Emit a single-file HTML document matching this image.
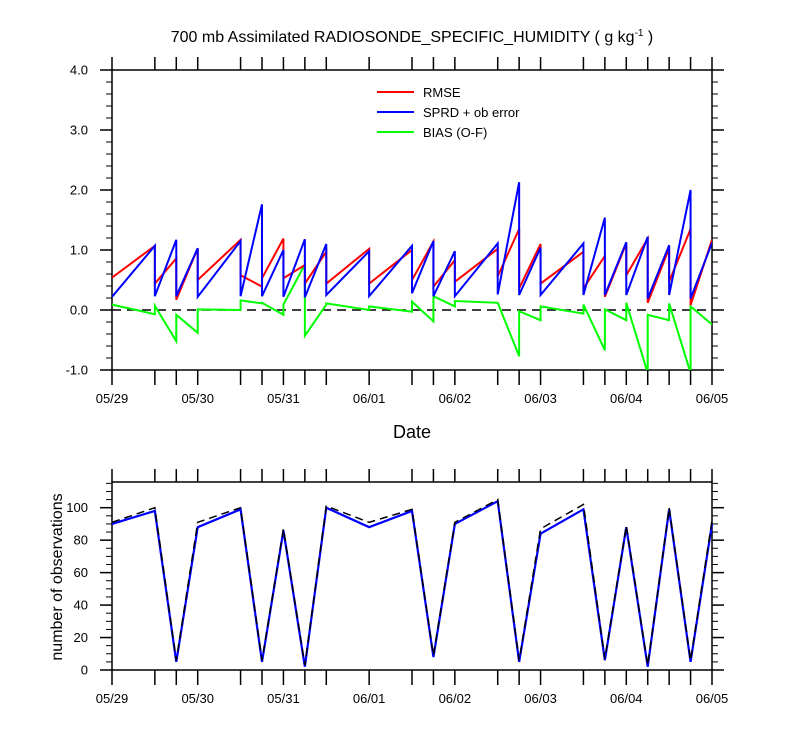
<!DOCTYPE html>
<html><head><meta charset="utf-8"><style>
body{margin:0;background:#fff;}
svg{display:block;font-family:"Liberation Sans",Arial,sans-serif;}
</style></head><body>
<svg id="chart" width="800" height="750" xmlns="http://www.w3.org/2000/svg">
<text x="412" y="42" text-anchor="middle" font-size="16">700 mb Assimilated RADIOSONDE_SPECIFIC_HUMIDITY ( g kg<tspan dy="-6" font-size="10">-1</tspan><tspan dy="6"> )</tspan></text>
<text x="412" y="438" text-anchor="middle" font-size="18">Date</text>
<text transform="translate(62,577) rotate(-90)" text-anchor="middle" font-size="16">number of observations</text>
<g id="topPlot"></g>
<g id="botPlot"></g>
<g>
<line x1="377" y1="92" x2="414" y2="92" stroke="#f00" stroke-width="2"/>
<text x="423" y="97" font-size="13">RMSE</text>
<line x1="377" y1="112" x2="414" y2="112" stroke="#00f" stroke-width="2"/>
<text x="423" y="117" font-size="13">SPRD + ob error</text>
<line x1="377" y1="132" x2="414" y2="132" stroke="#0f0" stroke-width="2"/>
<text x="423" y="137" font-size="13">BIAS (O-F)</text>
</g>
</svg>
<script>
// hours since 05/29 00Z
const times = [0,12,18,24,36,42,48,54,60,72,84,90,96,108,114,120,132,138,144,150,156,162,168];
const dayLabels = ["05/29","05/30","05/31","06/01","06/02","06/03","06/04","06/05"];
const yTicksTop = [-1,0,1,2,3,4];
const yTickLabelsTop = ["-1.0","0.0","1.0","2.0","3.0","4.0"];
const yTicksBot = [0,20,40,60,80,100];
// per interval [times[i], times[i+1]] start and end values
const rmseStart = [0.54,0.44,0.17,0.5,0.58,0.53,0.53,0.44,0.44,0.44,0.5,0.39,0.47,0.56,0.36,0.44,0.36,0.22,0.58,0.12,0.47,0.08];
const rmseEnd   = [1.07,0.86,1.03,1.17,0.39,1.19,0.75,0.97,1.02,1.0,1.14,0.83,1.02,1.35,1.1,0.97,0.9,1.11,1.19,1.03,1.35,1.17];
const sprdStart = [0.22,0.23,0.23,0.22,0.23,0.23,0.22,0.21,0.25,0.23,0.28,0.23,0.23,0.26,0.25,0.25,0.25,0.25,0.25,0.19,0.25,0.19];
const sprdEnd   = [1.07,1.17,1.03,1.15,1.76,1.0,1.18,1.1,0.98,1.07,1.15,0.98,1.11,2.13,1.04,1.11,1.54,1.13,1.22,1.08,2.0,1.12];
const biasStart = [0.09,0.07,-0.08,0.01,0.16,0.12,0.09,-0.43,0.11,0.06,0.14,0.23,0.15,0.12,-0.02,0.06,0.09,0.01,0.12,-0.08,0.11,0.06];
const biasEnd   = [-0.07,-0.52,-0.38,0.0,0.11,-0.08,0.76,0.09,0.0,-0.03,-0.19,0.06,0.12,-0.77,-0.17,-0.06,-0.67,-0.17,-1.05,-0.17,-1.05,-0.24];
const nobsUsed  = [90,98,5,88,99,5,86,2,100,88,98,8,90,104,5,84,99,6,88,2,99,5,90];
const nobsPoss  = [91,100,6,91,100,6,87,3,101,91,99,9,91,105,6,87,102,7,89,3,100,6,92];

const NS="http://www.w3.org/2000/svg";
const X0=112,X1=712;
const xs=h=>X0+(X1-X0)*h/168;
const yTop=v=>310-60*v;
const yBot=v=>670-1.623*v;
function mk(tag,attrs,parent){const e=document.createElementNS(NS,tag);for(const k in attrs)e.setAttribute(k,attrs[k]);parent.appendChild(e);return e;}
const topG=document.getElementById('topPlot'),botG=document.getElementById('botPlot');

const defs=mk('defs',{},document.getElementById('chart'));
const cp=mk('clipPath',{id:'cpt'},defs);mk('rect',{x:X0,y:70,width:600,height:300},cp);

function frame(g,yT,yB,ticks,labels,minorStep,vmin,vmax,yf,name){
  const f=mk('rect',{x:X0,y:yT,width:X1-X0,height:yB-yT,fill:'none',stroke:'#000','stroke-width':1.5},g);
  
  
  times.forEach(h=>{
    const t1=mk('line',{x1:xs(h),x2:xs(h),y1:yB,y2:yB+15,stroke:'#000','stroke-width':1.5},g);
    
    
    const t2=mk('line',{x1:xs(h),x2:xs(h),y1:yT,y2:yT-13,stroke:'#000','stroke-width':1.5},g);
    
    
  });
  dayLabels.forEach((d,i)=>{
    const t=mk('text',{x:xs(i*24),y:yB+33,'text-anchor':'middle','font-size':13},g);
    t.textContent=d;
    
    
  });
  for(let v=vmin;v<=vmax+1e-9;v+=minorStep){
    const y=yf(v);
    [[X0,X0-6],[X1,X1+6]].forEach(([a,b])=>{
      const l=mk('line',{x1:a,x2:b,y1:y,y2:y,stroke:'#000','stroke-width':1},g);
      
      
    });
  }
  ticks.forEach((v,i)=>{
    const y=yf(v);
    [[X0,X0-12],[X1,X1+12]].forEach(([a,b])=>{
      const l=mk('line',{x1:a,x2:b,y1:y,y2:y,stroke:'#000','stroke-width':1.5},g);
      
      
    });
    const t=mk('text',{x:X0-24,y:y+4.5,'text-anchor':'end','font-size':13},g);
    t.textContent=labels[i];
    
    
  });
}
frame(topG,70,370,yTicksTop,yTickLabelsTop,0.2,-1,4,yTop,'top');
frame(botG,482,670,yTicksBot,yTicksBot.map(String),5,0,115,yBot,'bottom');

const zl=mk('line',{x1:X0,x2:X1,y1:yTop(0),y2:yTop(0),stroke:'#000','stroke-width':1.5,'stroke-dasharray':'9,6'},topG);



function saw(st,en,color,name){
  let pts=[];
  for(let i=0;i<st.length;i++){pts.push(xs(times[i])+','+yTop(st[i]));pts.push(xs(times[i+1])+','+yTop(en[i]));}
  const p=mk('polyline',{points:pts.join(' '),fill:'none',stroke:color,'stroke-width':2,'clip-path':'url(#cpt)'},topG);
  
  
}
saw(biasStart,biasEnd,'#0f0','bias-line');
saw(rmseStart,rmseEnd,'#f00','rmse-line');
saw(sprdStart,sprdEnd,'#00f','sprd-line');

function nline(arr,color,dash,name,w){
  const pts=arr.map((v,i)=>xs(times[i])+','+yBot(v)).join(' ');
  const a={points:pts,fill:'none',stroke:color,'stroke-width':w};
  if(dash)a['stroke-dasharray']=dash;
  const p=mk('polyline',a,botG);
  
  
}
nline(nobsUsed,'#00f',null,'nobs-used-line',2.2);
nline(nobsPoss,'#000','8,5','nobs-possible-line',1.5);
</script>
</body></html>
